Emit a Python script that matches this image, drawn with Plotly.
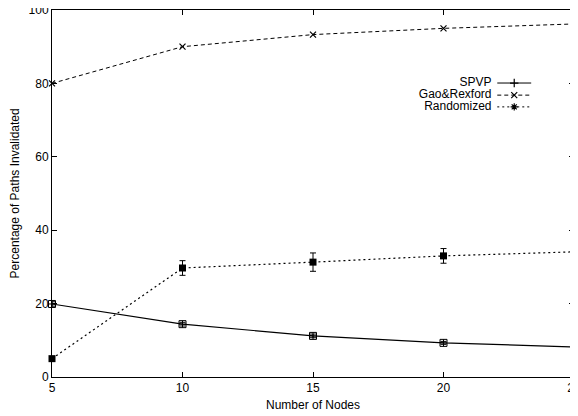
import plotly.graph_objects as go

nodes = [5, 10, 15, 20, 25]
spvp = [19.9, 14.4, 11.2, 9.3, 8.2]
spvp_err = [0.6, 0.5, 0.5, 0.4, 0.4]
gao = [80.0, 90.0, 93.3, 95.0, 96.2]
randomized = [5.0, 29.7, 31.3, 33.0, 34.1]
rand_err = [0.6, 2.0, 2.5, 2.0, 2.0]

x_ticks = [5, 10, 15, 20, 25]
y_ticks = [0, 20, 40, 60, 80, 100]

legend_names = ["SPVP", "Gao&Rexford", "Randomized"]

FONT = "Liberation Sans, Arial, sans-serif"

fig = go.Figure()
fig.add_trace(go.Scatter(
    x=nodes, y=spvp, mode="lines+markers", name="SPVP",
    line=dict(color="black", width=1.2, dash="solid"),
    marker=dict(symbol="square-cross-open", size=7, color="black", line=dict(width=1)),
    error_y=dict(type="data", array=spvp_err, color="black", thickness=1, width=3),
    cliponaxis=False,
))
fig.add_trace(go.Scatter(
    x=nodes, y=gao, mode="lines+markers", name="Gao&Rexford",
    line=dict(color="black", width=1, dash="4px,3px"),
    marker=dict(symbol="x-thin-open", size=6, color="black", line=dict(width=1.2, color="black")),
    cliponaxis=False,
))
fig.add_trace(go.Scatter(
    x=nodes, y=randomized, mode="lines+markers", name="Randomized",
    line=dict(color="black", width=1.2, dash="2px,3px"),
    marker=dict(symbol="square", size=7, color="black"),
    error_y=dict(type="data", array=rand_err, color="black", thickness=1, width=3),
    cliponaxis=False,
))

# gnuplot-style key: text right-aligned, line sample with point glyph to the right.
# Drawn on an overlay axis spanning the plot area in [0, 1] units.
legend_dash = ["solid", "4px,3px", "2px,3px"]
legend_symbol = ["cross-thin-open", "x-thin-open", "asterisk-open"]
lx_text = 0.842
lx0, lx1 = 0.853, 0.918
ly = [0.801, 0.768, 0.736]
for name, dash, sym, yy in zip(legend_names, legend_dash, legend_symbol, ly):
    fig.add_trace(go.Scatter(
        x=[lx0, lx1], y=[yy, yy], xaxis="x2", yaxis="y2", mode="lines",
        line=dict(color="black", width=1, dash=dash), hoverinfo="skip", showlegend=False))
    fig.add_trace(go.Scatter(
        x=[(lx0 + lx1) / 2], y=[yy], xaxis="x2", yaxis="y2", mode="markers",
        marker=dict(symbol=sym, size=6, color="black", line=dict(width=1.2, color="black")),
        hoverinfo="skip", showlegend=False))
    fig.add_trace(go.Scatter(
        x=[lx_text], y=[yy], xaxis="x2", yaxis="y2", mode="text", text=[name],
        textposition="middle left", textfont=dict(family=FONT, size=12, color="black"),
        hoverinfo="skip", showlegend=False))

axis_common = dict(showgrid=False, zeroline=False, showline=True, linecolor="black",
                   linewidth=1, mirror="allticks", ticks="inside", ticklen=5,
                   tickcolor="black", ticklabeloverflow="allow", automargin=False,
                   tickfont=dict(family=FONT, size=12, color="black"))

fig.update_xaxes(range=[5, 25], tickvals=x_ticks, ticktext=[str(v) for v in x_ticks],
                 **axis_common)
fig.update_yaxes(range=[0, 100], tickvals=y_ticks, ticktext=[str(v) for v in y_ticks],
                 **axis_common)

fig.update_layout(
    xaxis2=dict(overlaying="x", range=[0, 1], visible=False, fixedrange=True),
    yaxis2=dict(overlaying="y", range=[0, 1], visible=False, fixedrange=True),
)

fig.add_annotation(xref="paper", yref="paper", x=0.5, y=-0.077, text="Number of Nodes",
                   showarrow=False, xanchor="center", yanchor="middle",
                   font=dict(family=FONT, size=12, color="black"))
fig.add_annotation(xref="paper", yref="paper", x=-0.071, y=0.5,
                   text="Percentage of Paths Invalidated", textangle=-90,
                   showarrow=False, xanchor="center", yanchor="middle",
                   font=dict(family=FONT, size=12, color="black"))

# the page body adds an 8px offset; size the figure so the plot area lands where the reference has it
fig.update_layout(width=570, height=408, showlegend=False,
                  margin=dict(l=44, r=4, t=2, b=39, autoexpand=False),
                  plot_bgcolor="white", paper_bgcolor="white",
                  font=dict(family=FONT, color="black"))

fig.write_html("out.html")
